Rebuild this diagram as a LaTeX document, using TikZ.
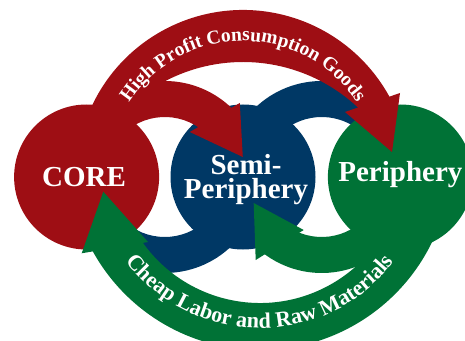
\documentclass[tikz,border=0pt]{standalone}
\usepackage{fontspec}
\setmainfont{Liberation Serif}
\usepackage{tikz}
\usetikzlibrary{positioning}
\usetikzlibrary{calc}
\usetikzlibrary{backgrounds}
\usetikzlibrary{decorations.text}
\definecolor{corered}{RGB}{158,14,20}
\definecolor{seminavy}{RGB}{0,56,101}
\definecolor{perigreen}{RGB}{0,114,54}

\begin{document}
\begin{tikzpicture}[
  x=1pt, y=1pt,
  hub/.style={circle, inner sep=0pt, minimum size=145pt},
  hublabel/.style={text=white, align=center, inner sep=0pt,
    font=\bfseries\fontsize{29}{24}\selectfont},
  bandtext/.style={decorate, decoration={text along path, text align=center, text={#1}}}
]
\useasboundingbox (0,0) rectangle (465,340);

% Three zones
\node[hub, fill=seminavy] (semi) at (243,163) {};
\node[hub, fill=corered, left=11pt of semi] (core) {};
\node[hub, fill=perigreen, right=12pt of semi] (peri) {};

% Centres of the two links
\coordinate (linkL) at ($(core)!0.5!(semi)$);
\coordinate (linkR) at ($(semi)!0.5!(peri)$);

% Blue halves of the links, behind the zones
\begin{pgfonlayer}{background}
  \fill[seminavy, shift={(linkL)}] (10:96) arc[start angle=10, end angle=-135, radius=96]
    -- (-135:60) arc[start angle=-135, end angle=10, radius=60] -- cycle;
  \fill[seminavy, shift={(linkR)}] (190:96) arc[start angle=190, end angle=55, radius=96]
    -- (55:60) arc[start angle=55, end angle=190, radius=60] -- cycle;
\end{pgfonlayer}

% Red half of the left link
\begin{scope}[shift={(linkL)}]
  \fill[corered] (180:96) arc[start angle=180, end angle=43, radius=96]
    -- (43:60) arc[start angle=43, end angle=180, radius=60] -- cycle;
  \fill[corered] (25,45) -- (75,74) -- (78,20) -- cycle;
\end{scope}

% Green half of the right link
\begin{scope}[shift={(linkR)}]
  \fill[perigreen] (10:96) arc[start angle=10, end angle=-128, radius=96]
    -- (-128:60) arc[start angle=-128, end angle=10, radius=60] -- cycle;
  \fill[perigreen] (-18,-53) -- (-66,-83) -- (-68,-26) -- cycle;
\end{scope}

% Upper band: core to periphery
\begin{scope}[shift={(semi)}]
  \fill[corered] (160:167) arc[start angle=160, end angle=28, radius=167]
    -- ([shift={(0,-53)}]45:168) arc[start angle=45, end angle=140, radius=168] -- cycle;
  \fill[corered] (102,65) -- (157,84) -- (149,25) -- cycle;
  \path[bandtext={|\bfseries\fontsize{19.5}{21}\selectfont\color{white}|High Profit Consumption Goods}]
    (165:136) arc[start angle=165, end angle=15, radius=136];
\end{scope}

% Lower band: periphery to core
\begin{scope}[shift={($(semi)+(17,18)$)}]
  \fill[perigreen] (-5:191) arc[start angle=-5, end angle=-152, radius=191]
    -- (-152:144) arc[start angle=-152, end angle=-5, radius=144] -- cycle;
  \fill[perigreen] (-112,-83) -- (-178.3,-94.3) -- (-156.7,-32.7) -- cycle;
  \path[bandtext={|\bfseries\fontsize{22}{24}\selectfont\color{white}|Cheap Labor and Raw Materials}]
    (195:169) arc[start angle=195, end angle=345, radius=169];
\end{scope}

% Zone names
\node[hublabel] (corelabel) at ($(core)+(-2.5,0)$) {CORE};
\node[hublabel] (semilabel) at ($(semi)+(3,-3)$) {Semi-\\Periphery};
\node[hublabel] (perilabel) at ($(peri)+(0,2)$) {Periphery};

\end{tikzpicture}
\end{document}
